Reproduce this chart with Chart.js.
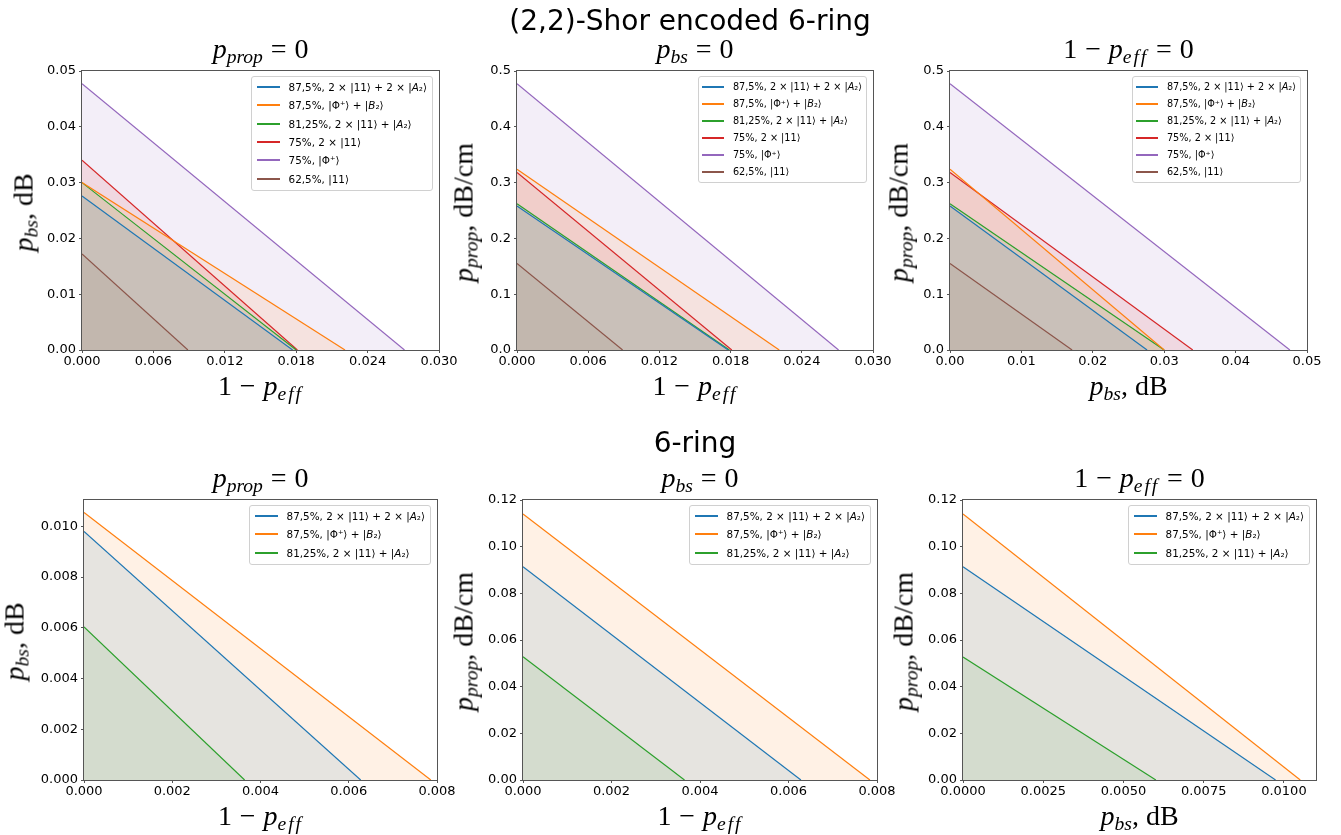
<!DOCTYPE html>
<html>
<head>
<meta charset="utf-8">
<script src="https://cdn.jsdelivr.net/npm/chart.js@4/dist/chart.umd.min.js"></script>
<style>
  body { margin: 0; background: #fff; overflow: hidden; }
  #fig { position: relative; width: 1341px; height: 835px; background: #fff; }
  #fig canvas { position: absolute; }
  .sup { position: absolute; width: 600px; text-align: center; font-family: "DejaVu Sans", sans-serif;
         font-size: 28px; line-height: 28px; color: #000; white-space: nowrap; }
  .math { position: absolute; width: 400px; text-align: center; font-family: "Liberation Serif", serif;
          font-size: 28px; line-height: 28px; color: #000; white-space: nowrap; }
  .math sub { font-size: 70%; vertical-align: baseline; position: relative; top: 0.28em; font-style: italic; }
  .math sub.eff { letter-spacing: 0.1em; }
  .math .op { margin: 0 0.28em; }
  .legend { position: absolute; border: 1px solid #d0d0d0; border-radius: 3px; background: rgba(255,255,255,0.8);
            font-family: "DejaVu Sans", sans-serif; color: #000; white-space: nowrap; }
  .legend .row { display: flex; align-items: center; }
  .legend .swatch { display: inline-block; height: 2px; flex: none; }
</style>
</head>
<body>
<div id="fig"></div>
<script>
// ---- series (matplotlib tab10 colours) ----
const seriesColors = ['#1f77b4', '#ff7f0e', '#2ca02c', '#d62728', '#9467bd', '#8c564b'];
const shorLabels = [
  '87,5%, 2 × |11⟩ + 2 × |A₂⟩',
  '87,5%, |Φ⁺⟩ + |B₂⟩',
  '81,25%, 2 × |11⟩ + |A₂⟩',
  '75%, 2 × |11⟩',
  '75%, |Φ⁺⟩',
  '62,5%, |11⟩'
];
const ringLabels = shorLabels.slice(0, 3);

// ---- (2,2)-Shor encoded 6-ring: where each boundary line meets the axes ----
// p_prop = 0 : x = 1 - p_eff, y = p_bs
const shorPprop0_effCut = [0.0177, 0.0221, 0.0180, 0.0181, 0.0271, 0.0089];
const shorPprop0_bsCut  = [0.0276, 0.0300, 0.0300, 0.0340, 0.0477, 0.0172];
// p_bs = 0 : x = 1 - p_eff, y = p_prop
const shorPbs0_effCut   = [0.0178, 0.0221, 0.0179, 0.0181, 0.0271, 0.0089];
const shorPbs0_propCut  = [0.258, 0.324, 0.262, 0.318, 0.477, 0.155];
// 1 - p_eff = 0 : x = p_bs, y = p_prop
const shorEff0_bsCut    = [0.0276, 0.0300, 0.0300, 0.0340, 0.0476, 0.0171];
const shorEff0_propCut  = [0.258, 0.324, 0.262, 0.318, 0.477, 0.155];

// ---- 6-ring ----
const ringPprop0_effCut = [0.00627, 0.00786, 0.00364];
const ringPprop0_bsCut  = [0.00980, 0.01055, 0.00604];
const ringPbs0_effCut   = [0.00628, 0.00784, 0.00365];
const ringPbs0_propCut  = [0.0914, 0.1140, 0.0528];
const ringEff0_bsCut    = [0.00974, 0.01051, 0.00601];
const ringEff0_propCut  = [0.0914, 0.1140, 0.0527];

// ---- tick labels ----
const shorEffTicks  = ['0.000', '0.006', '0.012', '0.018', '0.024', '0.030'];
const shorBsYTicks  = ['0.00', '0.01', '0.02', '0.03', '0.04', '0.05'];
const shorPropTicks = ['0.0', '0.1', '0.2', '0.3', '0.4', '0.5'];
const shorBsXTicks  = ['0.00', '0.01', '0.02', '0.03', '0.04', '0.05'];
const ringEffTicks  = ['0.000', '0.002', '0.004', '0.006', '0.008'];
const ringBsYTicks  = ['0.000', '0.002', '0.004', '0.006', '0.008', '0.010'];
const ringPropTicks = ['0.00', '0.02', '0.04', '0.06', '0.08', '0.10', '0.12'];
const ringBsXTicks  = ['0.0000', '0.0025', '0.0050', '0.0075', '0.0100'];

const m = (b, s, cls) => `<i>${b}</i><sub${cls ? ' class="' + cls + '"' : ''}>${s}</sub>`;
const EQ0 = '<span class="op">=</span>0';
const ONE_MINUS = '1<span class="op">−</span>';
const T_PROP0 = m('p', 'prop') + EQ0;
const T_BS0 = m('p', 'bs') + EQ0;
const T_EFF0 = ONE_MINUS + m('p', 'eff', 'eff') + EQ0;
const L_EFF = ONE_MINUS + m('p', 'eff', 'eff');
const L_BS = m('p', 'bs') + ', dB';
const L_PROP = m('p', 'prop') + ', dB/cm';

const LEG_BIG = { font: 10.4, row: 18.3, line: 23, gap: 9, pad: [1, 5, 2, 5] };
const LEG_SMALL = { font: 9.7, row: 17, line: 22, gap: 9, pad: [1, 4, 2, 3] };

const panels = [
  { plot: [82, 71, 439, 350], xCut: shorPprop0_effCut, yCut: shorPprop0_bsCut, labels: shorLabels,
    x: { max: 0.03, ticks: shorEffTicks }, y: { max: 0.05, ticks: shorBsYTicks },
    title: T_PROP0, xLabel: L_EFF, yLabel: L_BS, yLabX: 25, legend: LEG_BIG },
  { plot: [517, 71, 873, 350], xCut: shorPbs0_effCut, yCut: shorPbs0_propCut, labels: shorLabels,
    x: { max: 0.03, ticks: shorEffTicks }, y: { max: 0.5, ticks: shorPropTicks },
    title: T_BS0, xLabel: L_EFF, yLabel: L_PROP, yLabX: 465, legend: LEG_SMALL },
  { plot: [950, 71, 1307, 350], xCut: shorEff0_bsCut, yCut: shorEff0_propCut, labels: shorLabels,
    x: { max: 0.05, ticks: shorBsXTicks }, y: { max: 0.5, ticks: shorPropTicks },
    title: T_EFF0, xLabel: L_BS, yLabel: L_PROP, yLabX: 900, legend: LEG_SMALL },
  { plot: [84, 500, 437, 780], xCut: ringPprop0_effCut, yCut: ringPprop0_bsCut, labels: ringLabels,
    x: { max: 0.008, ticks: ringEffTicks }, y: { max: 0.01104, ticks: ringBsYTicks },
    title: T_PROP0, xLabel: L_EFF, yLabel: L_BS, yLabX: 16, legend: LEG_BIG },
  { plot: [523, 500, 877, 780], xCut: ringPbs0_effCut, yCut: ringPbs0_propCut, labels: ringLabels,
    x: { max: 0.008, ticks: ringEffTicks }, y: { max: 0.12, ticks: ringPropTicks },
    title: T_BS0, xLabel: L_EFF, yLabel: L_PROP, yLabX: 465, legend: LEG_BIG },
  { plot: [963, 500, 1316, 780], xCut: ringEff0_bsCut, yCut: ringEff0_propCut, labels: ringLabels,
    x: { max: 0.011, ticks: ringBsXTicks }, y: { max: 0.12, ticks: ringPropTicks },
    title: T_EFF0, xLabel: L_BS, yLabel: L_PROP, yLabX: 905, legend: LEG_BIG }
];

const fig = document.getElementById('fig');

function rgba(hex, a) {
  const n = parseInt(hex.slice(1), 16);
  return `rgba(${n >> 16},${(n >> 8) & 255},${n & 255},${a})`;
}

function addText(cls, html, left, top, extra) {
  const d = document.createElement('div');
  d.className = cls;
  d.innerHTML = html;
  d.style.left = left + 'px';
  d.style.top = top + 'px';
  if (extra) Object.assign(d.style, extra);
  fig.appendChild(d);
  return d;
}

// axes frame (all four spines)
const frame = {
  id: 'frame',
  afterDraw(chart) {
    const { ctx, chartArea: a } = chart;
    ctx.save();
    ctx.strokeStyle = '#555';
    ctx.lineWidth = 1;
    ctx.strokeRect(a.left - 0.5, a.top - 0.5, a.right - a.left + 1, a.bottom - a.top + 1);
    ctx.restore();
  }
};

function axis(cfg, isX) {
  return {
    type: 'linear',
    min: 0,
    max: cfg.max,
    afterBuildTicks: s => { s.ticks = cfg.ticks.map(t => ({ value: parseFloat(t) })); },
    afterFit: s => { if (isX) s.height = 30; else s.width = 70; },
    ticks: {
      autoSkip: false, maxRotation: 0, color: '#000', padding: isX ? 1 : 3,
      font: { family: 'DejaVu Sans', size: 13 },
      callback: (v, i) => cfg.ticks[i]
    },
    grid: { display: true, drawOnChartArea: false, drawTicks: true, tickLength: 3, tickColor: '#555' },
    border: { display: false }
  };
}

const PAD_L = 70, PAD_T = 12, PAD_R = 30, PAD_B = 30;

panels.forEach(p => {
  const [L, T, R, B] = p.plot;
  const w = R - L + PAD_L + PAD_R, h = B - T + PAD_T + PAD_B;
  const canvas = document.createElement('canvas');
  canvas.width = w; canvas.height = h;
  canvas.style.left = (L - PAD_L) + 'px';
  canvas.style.top = (T - PAD_T) + 'px';
  canvas.style.width = w + 'px';
  canvas.style.height = h + 'px';
  fig.appendChild(canvas);

  new Chart(canvas.getContext('2d'), {
    type: 'scatter',
    data: {
      datasets: p.xCut.map((x0, i) => ({
        label: p.labels[i],
        data: [{ x: 0, y: p.yCut[i] }, { x: x0, y: 0 }],
        showLine: true,
        borderColor: seriesColors[i],
        backgroundColor: rgba(seriesColors[i], 0.11),
        borderWidth: 1.2,
        pointRadius: 0,
        fill: 'origin',
        order: i
      }))
    },
    options: {
      responsive: false,
      animation: false,
      layout: { padding: { left: 0, top: PAD_T, right: PAD_R, bottom: 0 } },
      scales: { x: axis(p.x, true), y: axis(p.y, false) },
      plugins: {
        legend: { display: false },
        tooltip: { enabled: false },
        filler: { drawTime: 'beforeDatasetsDraw' }
      }
    },
    plugins: [frame]
  });

  // titles and axis labels (baseline ~0.84em below the box top)
  const cx = (L + R) / 2, cy = (T + B) / 2;
  addText('math', p.title, cx - 200, T - 13 - 23.5);
  addText('math', p.xLabel, cx - 200, B + 45 - 23.5);
  addText('math', p.yLabel, p.yLabX - 200, cy - 14, { transform: 'rotate(-90deg)' });

  // legend box in the upper right of the axes
  const lg = p.legend;
  const box = document.createElement('div');
  box.className = 'legend';
  box.style.right = (1341 - R + 6) + 'px';
  box.style.top = (T + 5) + 'px';
  box.style.fontSize = lg.font + 'px';
  box.style.padding = lg.pad.map(v => v + 'px').join(' ');
  p.labels.forEach((lab, i) => {
    const row = document.createElement('div');
    row.className = 'row';
    row.style.height = lg.row + 'px';
    const sw = document.createElement('span');
    sw.className = 'swatch';
    sw.style.width = lg.line + 'px';
    sw.style.marginRight = lg.gap + 'px';
    sw.style.background = seriesColors[i];
    const tx = document.createElement('span');
    tx.innerHTML = lab.replace(/([AB])₂/g, '<i>$1</i>₂');
    row.appendChild(sw);
    row.appendChild(tx);
    box.appendChild(row);
  });
  fig.appendChild(box);
});

addText('sup', '(2,2)-Shor encoded 6-ring', 690 - 300, 31 - 24);
addText('sup', '6-ring', 695 - 300, 453 - 24);
</script>
</body>
</html>
